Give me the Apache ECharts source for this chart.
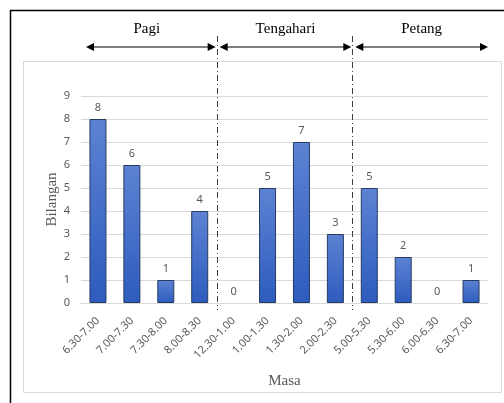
<!DOCTYPE html>
<html>
<head>
<meta charset="utf-8">
<script src="https://cdn.jsdelivr.net/npm/echarts@6/dist/echarts.min.js"></script>
<style>
html,body{margin:0;padding:0;background:#fff;}
#c{width:504px;height:403px;}
</style>
</head>
<body>
<div id="c"></div>
<script>
var categories = ['6.30-7.00','7.00-7.30','7.30-8.00','8.00-8.30','12.30-1.00','1.00-1.30','1.30-2.00','2.00-2.30','5.00-5.30','5.30-6.00','6.00-6.30','6.30-7.00'];
var values = [8,6,1,4,0,5,7,3,5,2,0,1];
var yTicks = [0,1,2,3,4,5,6,7,8,9];
var groups = [
  {name:'Pagi', from:0, to:3},
  {name:'Tengahari', from:4, to:7},
  {name:'Petang', from:8, to:11}
];

var chart = echarts.init(document.getElementById('c'), null, {renderer:'canvas'});
var barData = values.map(function(v){
  return v === 0 ? {value:v, itemStyle:{borderWidth:0, opacity:0}, label:{show:true}} : v;
});
var option = {
  animation:false,
  backgroundColor:'#fff',
  grid:{left:81, right:16, top:96, bottom:100},
  xAxis:{
    type:'category',
    data:categories,
    name:'Masa',
    nameLocation:'middle',
    nameGap:71,
    nameMoveOverlap:false,
    nameTextStyle:{fontFamily:'Liberation Serif', fontSize:15, color:'#595959'},
    axisLine:{lineStyle:{color:'#d9d9d9'}},
    axisTick:{show:false},
    axisLabel:{rotate:45, interval:0, color:'#595959', fontFamily:'Noto Sans', fontSize:11, margin:16}
  },
  yAxis:{
    type:'value',
    min:yTicks[0], max:yTicks[yTicks.length-1], interval:1,
    name:'Bilangan',
    nameLocation:'middle',
    nameGap:21,
    nameMoveOverlap:false,
    nameTextStyle:{fontFamily:'Liberation Serif', fontSize:15, color:'#595959'},
    axisLine:{show:false},
    axisTick:{show:false},
    axisLabel:{color:'#595959', fontFamily:'Noto Sans', fontSize:11, margin:11},
    splitLine:{lineStyle:{color:'#d9d9d9'}}
  },
  series:[{
    type:'bar',
    data:barData,
    barWidth:17,
    itemStyle:{
      color:new echarts.graphic.LinearGradient(0,0,0,1,[{offset:0,color:'#5d82d2'},{offset:1,color:'#2d5cbe'}]),
      borderColor:'#263b63',
      borderWidth:1
    },
    label:{show:true, position:'top', distance:6, color:'#595959', fontFamily:'Noto Sans', fontSize:11, opacity:1}
  }]
};
chart.setOption(option);

function px(i){ return chart.convertToPixel({xAxisIndex:0}, i); }
var band = px(1) - px(0);
var gridLeft = px(0) - band/2;
var gridRight = px(categories.length-1) + band/2;
var y0 = chart.convertToPixel({yAxisIndex:0}, 0);

var g = [];
g.push({type:'rect', shape:{x:10.5,y:10.5,width:510,height:410}, style:{fill:null, stroke:'#000', lineWidth:1.5}, z:0});
g.push({type:'rect', shape:{x:23.5,y:61.5,width:478,height:331}, style:{fill:null, stroke:'#d9d9d9', lineWidth:1}, z:0});

var arrowY = 47;
var sepXs = [];
for (var k=0;k<groups.length-1;k++){
  sepXs.push((px(groups[k].to)+px(groups[k+1].from))/2);
}
sepXs.forEach(function(x){
  g.push({type:'line', shape:{x1:Math.round(x)+0.5,y1:36,x2:Math.round(x)+0.5,y2:y0+7}, style:{stroke:'#404040', lineWidth:1, lineDash:[6,3,1,3]}, z:10});
});
groups.forEach(function(gr, i){
  var xs = i===0 ? gridLeft+5 : sepXs[i-1]+3;
  var xe = i===groups.length-1 ? gridRight : sepXs[i]-1;
  g.push({type:'line', shape:{x1:xs+6,y1:arrowY,x2:xe-6,y2:arrowY}, style:{stroke:'#000', lineWidth:1}, z:10});
  g.push({type:'polygon', shape:{points:[[xs,arrowY],[xs+8,arrowY-4],[xs+8,arrowY+4]]}, style:{fill:'#000'}, z:10});
  g.push({type:'polygon', shape:{points:[[xe,arrowY],[xe-8,arrowY-4],[xe-8,arrowY+4]]}, style:{fill:'#000'}, z:10});
  g.push({type:'text', x:(xs+xe)/2 - (i===0?4:0), y:29, style:{text:gr.name, fill:'#000', font:'15px "Liberation Serif"', align:'center', verticalAlign:'middle'}, z:10});
});
chart.setOption({graphic:g});
</script>
</body>
</html>
